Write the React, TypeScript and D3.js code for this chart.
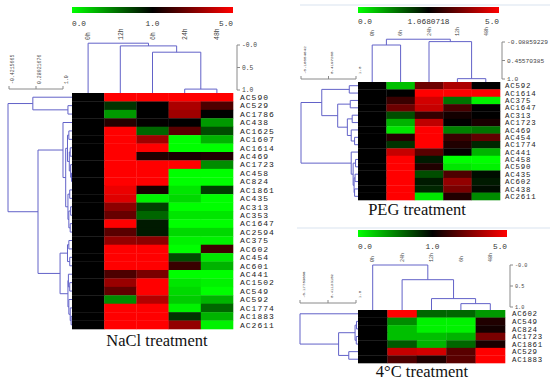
import React from "react";
import * as d3 from "d3";

type Tree = string | { h: number; c: Tree[] };

// ---------- NaCl ----------
const naclCols = ["0h", "12h", "6h", "24h", "48h"];
const naclRows = [
  "AC590", "AC529", "AC1786", "AC438", "AC1625", "AC1607", "AC1614", "AC469",
  "AC1723", "AC458", "AC824", "AC1861", "AC435", "AC313", "AC353", "AC1647",
  "AC2594", "AC375", "AC602", "AC454", "AC601", "AC441", "AC1502", "AC549",
  "AC592", "AC1774", "AC1883", "AC2611",
];
const naclValues = [
  [1, 5, 5, 5, 5],
  [1, 0.8, 1, 3.7, 2.2],
  [1, 0.4, 1, 3.5, 1],
  [1, 1.6, 1.05, 1, 0.4],
  [1, 5, 0.6, 2.4, 0.7],
  [1, 5, 3.5, 0, 0.3],
  [1, 5, 5, 0, 0],
  [1, 5, 1.5, 1.4, 1.5],
  [1, 5, 5, 5, 0.45],
  [1, 5, 5, 0, 0],
  [1, 5, 5, 0, 0],
  [1, 4.7, 1.4, 0.1, 0.75],
  [1, 4.5, 0.05, 0.15, 0],
  [1, 3.2, 0.75, 0, 0],
  [1, 2.6, 0.6, 0.1, 0.1],
  [1, 5, 0.9, 0, 0],
  [1, 2.4, 0.9, 0.15, 0.15],
  [1, 3.3, 3.2, 0.05, 0.05],
  [1, 5, 5, 0, 2],
  [1, 5, 5, 0.7, 0.1],
  [1, 5, 5, 1.9, 0.3],
  [1, 2.2, 2.9, 0, 0],
  [1, 3.4, 5, 0.1, 0.05],
  [1, 2.5, 5, 0.15, 0],
  [1, 0.45, 3.8, 0.2, 0.3],
  [1, 5, 5, 0.05, 0.6],
  [1, 5, 5, 0.8, 0.3],
  [1, 5, 5, 3.3, 0.05],
];
const naclColTree: Tree = {
  h: -0.04,
  c: ["0h", { h: 0.02, c: ["12h", { h: 0.16, c: ["6h", { h: 0.98, c: ["24h", "48h"] }] }] }],
};
const naclRowTree: Tree = {
  h: -0.4215665,
  c: [
    { h: 0.13, c: ["AC590", { h: 0.91, c: ["AC529", "AC1786"] }] },
    {
      h: 0.245,
      c: [
        {
          h: 0.8,
          c: [
            "AC438",
            {
              h: 0.86,
              c: [
                {
                  h: 0.9,
                  c: [
                    { h: 0.93, c: ["AC1625", "AC1607"] },
                    {
                      h: 0.94,
                      c: [
                        { h: 0.96, c: ["AC1614", "AC469"] },
                        { h: 0.97, c: ["AC1723", { h: 0.99, c: ["AC458", "AC824"] }] },
                      ],
                    },
                  ],
                },
                {
                  h: 0.91,
                  c: [
                    { h: 0.95, c: ["AC1861", "AC435"] },
                    {
                      h: 0.93,
                      c: [
                        { h: 0.97, c: ["AC313", "AC353"] },
                        { h: 0.96, c: ["AC1647", "AC2594"] },
                      ],
                    },
                  ],
                },
              ],
            },
          ],
        },
        {
          h: 0.735,
          c: [
            {
              h: 0.9,
              c: [
                { h: 0.93, c: ["AC375", "AC602"] },
                { h: 0.95, c: ["AC454", "AC601"] },
              ],
            },
            {
              h: 0.91,
              c: [
                { h: 0.92, c: ["AC441", { h: 0.95, c: ["AC1502", "AC549"] }] },
                {
                  h: 0.93,
                  c: ["AC592", { h: 0.96, c: ["AC1774", { h: 0.98, c: ["AC1883", "AC2611"] }] }],
                },
              ],
            },
          ],
        },
      ],
    },
  ],
};
const naclBarLabels = ["0.0", "1.0", "5.0"];
const naclColTicks = [0, 0.5, 1];
const naclColTickLabels = ["-0.0", "0.5", "1.0"];
const naclRowTicks = [-0.4215665, 0.28921676, 1];
const naclRowTickLabels = ["-0.4215665", "0.28921676", "1.0"];

// ---------- PEG ----------
const pegCols = ["0h", "6h", "24h", "12h", "48h"];
const pegRows = [
  "AC592", "AC1614", "AC375", "AC1647", "AC313", "AC1723", "AC469", "AC454",
  "AC1774", "AC441", "AC458", "AC590", "AC435", "AC602", "AC438", "AC2611",
];
const pegValues = [
  [1, 0.25, 2.7, 3.7, 1],
  [1, 1, 5, 5, 5],
  [1, 1.9, 4.3, 0.55, 0.05],
  [1, 2.7, 4.1, 2.1, 1],
  [1, 0.7, 1.8, 1.3, 1],
  [1, 0.3, 4, 1, 1.4],
  [1, 0.1, 5, 0.5, 0.55],
  [1, 1.6, 5, 1.9, 2.5],
  [1, 0.8, 5, 1.5, 0.85],
  [1, 4.1, 2.4, 1.05, 0.3],
  [1, 5, 0.9, 0, 0],
  [1, 5, 1.5, 0.1, 0.05],
  [1, 5, 0.7, 2.2, 0.95],
  [1, 5, 0.9, 3.3, 0.9],
  [1, 5, 0.85, 2.9, 0.95],
  [1, 5, 0.1, 1.5, 0.45],
];
const pegColTree: Tree = {
  h: -0.17,
  c: [{ h: 0.0, c: ["0h", "6h"] }, { h: -0.1, c: ["24h", { h: 0.99, c: ["12h", "48h"] }] }],
};
const pegRowTree: Tree = {
  h: -0.16054642,
  c: [
    {
      h: 0.27,
      c: [
        { h: 0.84, c: ["AC592", "AC1614"] },
        {
          h: 0.6,
          c: [
            { h: 0.86, c: ["AC375", "AC1647"] },
            {
              h: 0.8,
              c: [
                { h: 0.9, c: ["AC313", "AC1723"] },
                { h: 0.88, c: ["AC469", { h: 0.95, c: ["AC454", "AC1774"] }] },
              ],
            },
          ],
        },
      ],
    },
    {
      h: 0.88,
      c: [
        "AC441",
        {
          h: 0.92,
          c: [
            { h: 0.97, c: ["AC458", "AC590"] },
            {
              h: 0.94,
              c: [
                { h: 0.96, c: ["AC435", "AC602"] },
                { h: 0.95, c: ["AC438", "AC2611"] },
              ],
            },
          ],
        },
      ],
    },
  ],
};
const pegBarLabels = ["0.0", "1.0680718", "5.0"];
const pegColTicks = [-0.08859229, 0.45570385, 1];
const pegColTickLabels = ["-0.08859229", "0.45570385", "1.0"];
const pegRowTicks = [-0.16054642, 0.4197268, 1];
const pegRowTickLabels = ["-0.16054642", "0.4197268", "1.0"];

// ---------- 4°C ----------
const coldCols = ["0h", "24h", "12h", "6h", "48h"];
const coldRows = ["AC602", "AC549", "AC824", "AC1723", "AC1861", "AC529", "AC1883"];
const coldValues = [
  [1, 5, 0.6, 0.6, 0.4],
  [1, 0.45, 0.05, 0.05, 1.5],
  [1, 0.25, 0.05, 0.05, 1.3],
  [1, 0.25, 0.25, 0.3, 2.9],
  [1, 0.65, 0.3, 0.6, 1.4],
  [1, 4.1, 4.3, 2.4, 5],
  [1, 2.2, 1.5, 2.4, 5],
];
const coldColTree: Tree = {
  h: 0,
  c: ["0h", { h: 0.35, c: ["24h", { h: 0.8, c: ["12h", { h: 0.92, c: ["6h", "48h"] }] }] }],
};
const coldRowTree: Tree = {
  h: -0.17753686,
  c: [
    "AC602",
    {
      h: 0.62,
      c: [
        {
          h: 0.96,
          c: [
            { h: 0.99, c: ["AC549", "AC824"] },
            { h: 0.985, c: ["AC1723", "AC1861"] },
          ],
        },
        { h: 0.83, c: ["AC529", "AC1883"] },
      ],
    },
  ],
};
const coldBarLabels = ["0.0", "1.0", "5.0"];
const coldColTicks = [0, 0.5, 1];
const coldColTickLabels = ["-0.0", "0.5", "1.0"];
const coldRowTicks = [-0.17753686, 0.41123152, 1];
const coldRowTickLabels = ["-0.17753686", "0.41123152", "1.0"];

const valueColor = d3
  .scaleLinear<string>()
  .domain([0, 1, 5])
  .range(["#00ff00", "#000000", "#ff0000"])
  .clamp(true);

const TREE = "#6262c8";
const AXIS = "#8a8a8a";
const MONO = "'Liberation Mono', 'DejaVu Sans Mono', monospace";
const SERIF = "'Liberation Serif', 'DejaVu Serif', serif";

function dendro(
  t: Tree,
  leafPos: (n: string) => number,
  depth: (h: number) => number,
  leafDepth: number
) {
  const segs: [number, number, number, number][] = [];
  function walk(n: Tree): { p: number; d: number } {
    if (typeof n === "string") return { p: leafPos(n), d: leafDepth };
    const kids = n.c.map(walk);
    const d = depth(n.h);
    kids.forEach((k) => segs.push([k.p, d, k.p, k.d]));
    const ps = kids.map((k) => k.p);
    segs.push([d3.min(ps)!, d, d3.max(ps)!, d]);
    return { p: d3.mean(ps)!, d };
  }
  walk(t);
  return segs;
}

type Layout = {
  id: string;
  hx: [number, number];
  hy: [number, number];
  bar: [number, number, number, number]; // x0, x1, y, h
  barLabelY: number;
  colLabelY: number;
  colLabelSize: number;
  colTreeY: [number, number];
  colAxisX: number;
  colAxisSize: number;
  rowTreeX: [number, number];
  rowAxisX: [number, number];
  rowAxisY: number;
  rowAxisSize: number;
  rowLabelX: number;
  rowLabelSize: number;
  rowLabelSpacing: number;
  title: string;
  titleXY: [number, number];
};

function Panel(props: {
  L: Layout;
  rows: string[];
  cols: string[];
  values: number[][];
  rowTree: Tree;
  colTree: Tree;
  barLabels: string[];
  colTicks: number[];
  colTickLabels: string[];
  rowTicks: number[];
  rowTickLabels: string[];
}) {
  const { L, rows, cols, values } = props;
  const x = d3.scaleBand().domain(cols).range(L.hx);
  const y = d3.scaleBand().domain(rows).range(L.hy);
  const colDepth = d3
    .scaleLinear()
    .domain([props.colTicks[0], props.colTicks[props.colTicks.length - 1]])
    .range(L.colTreeY);
  const rowDepth = d3
    .scaleLinear()
    .domain([props.rowTicks[0], props.rowTicks[props.rowTicks.length - 1]])
    .range(L.rowTreeX);
  const rowAxis = d3
    .scaleLinear()
    .domain([props.rowTicks[0], props.rowTicks[props.rowTicks.length - 1]])
    .range(L.rowAxisX);

  const colSegs = dendro(props.colTree, (n) => x(n)! + x.bandwidth() / 2, colDepth, L.hy[0]);
  const rowSegs = dendro(props.rowTree, (n) => y(n)! + y.bandwidth() / 2, rowDepth, L.hx[0]);
  const [bx0, bx1, by, bh] = L.bar;
  const gid = "grad-" + L.id;

  return (
    <g>
      <defs>
        <linearGradient id={gid} x1="0" x2="1" y1="0" y2="0">
          <stop offset="0" stopColor={valueColor(0)} />
          <stop offset="0.5" stopColor={valueColor(1)} />
          <stop offset="1" stopColor={valueColor(5)} />
        </linearGradient>
      </defs>
      <rect x={bx0} y={by} width={bx1 - bx0} height={bh} fill={`url(#${gid})`} />
      {props.barLabels.map((t, i) => (
        <text
          key={t}
          x={i === 0 ? bx0 : i === 1 ? (bx0 + bx1) / 2 : bx1}
          y={L.barLabelY}
          textAnchor={i === 0 ? "start" : i === 1 ? "middle" : "end"}
          fontFamily={MONO}
          fontSize={7.8}
          fill="#333"
        >
          {t}
        </text>
      ))}

      {cols.map((c) => {
        const cx = x(c)! + x.bandwidth() / 2 + L.colLabelSize * 0.35;
        return (
          <text
            key={c}
            transform={`translate(${cx},${L.colLabelY}) rotate(-90)`}
            fontFamily={MONO}
            fontSize={L.colLabelSize}
            fill="#444"
          >
            {c}
          </text>
        );
      })}

      {values.map((row, i) =>
        row.map((v, j) => (
          <rect
            key={rows[i] + cols[j]}
            x={x(cols[j])}
            y={y(rows[i])}
            width={x.bandwidth() + 0.3}
            height={y.bandwidth() + 0.3}
            fill={valueColor(v)}
          />
        ))
      )}

      {rows.map((r) => (
        <text
          key={r}
          x={L.rowLabelX}
          y={y(r)! + y.bandwidth() / 2 + L.rowLabelSize * 0.35}
          fontFamily={MONO}
          fontSize={L.rowLabelSize}
          letterSpacing={L.rowLabelSpacing}
          fill="#222"
        >
          {r}
        </text>
      ))}

      <g stroke={TREE} strokeWidth={1} fill="none">
        {colSegs.map((s, i) => (
          <line key={"c" + i} x1={s[0]} y1={s[1]} x2={s[2]} y2={s[3]} />
        ))}
        {rowSegs.map((s, i) => (
          <line key={"r" + i} x1={s[1]} y1={s[0]} x2={s[3]} y2={s[2]} />
        ))}
      </g>

      {/* column distance axis */}
      <g stroke={AXIS} strokeWidth={1}>
        <line x1={L.colAxisX} x2={L.colAxisX} y1={L.colTreeY[0]} y2={L.colTreeY[1]} />
        {props.colTicks.map((t) => (
          <line key={t} x1={L.colAxisX} x2={L.colAxisX + 3} y1={colDepth(t)} y2={colDepth(t)} />
        ))}
      </g>
      {props.colTicks.map((t, i) => (
        <text
          key={t}
          x={L.colAxisX + 5}
          y={colDepth(t) + L.colAxisSize * 0.35}
          fontFamily={MONO}
          fontSize={L.colAxisSize}
          fill="#444"
        >
          {props.colTickLabels[i]}
        </text>
      ))}

      {/* row distance axis */}
      <g stroke={AXIS} strokeWidth={1}>
        <line x1={L.rowAxisX[0]} x2={L.rowAxisX[1]} y1={L.rowAxisY} y2={L.rowAxisY} />
        {props.rowTicks.map((t) => (
          <line key={t} x1={rowAxis(t)} x2={rowAxis(t)} y1={L.rowAxisY} y2={L.rowAxisY - 3} />
        ))}
      </g>
      {props.rowTicks.map((t, i) => (
        <text
          key={t}
          transform={`translate(${rowAxis(t) + L.rowAxisSize + 0.5},${L.rowAxisY - 5}) rotate(-90)`}
          fontFamily={MONO}
          fontSize={L.rowAxisSize}
          fill="#444"
        >
          {props.rowTickLabels[i]}
        </text>
      ))}

      <text
        x={L.titleXY[0]}
        y={L.titleXY[1]}
        textAnchor="middle"
        fontFamily={SERIF}
        fontSize={16.5}
        fill="#111"
      >
        {L.title}
      </text>
    </g>
  );
}

const naclLayout: Layout = {
  id: "nacl",
  hx: [72, 233],
  hy: [93, 329],
  bar: [72, 233, 7, 6],
  barLabelY: 26,
  colLabelY: 40,
  colLabelSize: 6.5,
  colTreeY: [45, 90],
  colAxisX: 237,
  colAxisSize: 6.3,
  rowTreeX: [8, 72],
  rowAxisX: [9, 63],
  rowAxisY: 89,
  rowAxisSize: 4.9,
  rowLabelX: 240,
  rowLabelSize: 8,
  rowLabelSpacing: 1,
  title: "NaCl treatment",
  titleXY: [157, 346],
};

const pegLayout: Layout = {
  id: "peg",
  hx: [358, 500],
  hy: [82, 200],
  bar: [358, 499, 7, 6],
  barLabelY: 24,
  colLabelY: 36,
  colLabelSize: 5,
  colTreeY: [42, 79],
  colAxisX: 502,
  colAxisSize: 6.2,
  rowTreeX: [301, 357],
  rowAxisX: [301, 356],
  rowAxisY: 79,
  rowAxisSize: 4.2,
  rowLabelX: 505,
  rowLabelSize: 7.4,
  rowLabelSpacing: 0.8,
  title: "PEG treatment",
  titleXY: [417, 215],
};

const coldLayout: Layout = {
  id: "cold",
  hx: [358, 505],
  hy: [310, 363],
  bar: [358, 507, 230, 7],
  barLabelY: 249,
  colLabelY: 262,
  colLabelSize: 5,
  colTreeY: [265, 307],
  colAxisX: 510,
  colAxisSize: 5.2,
  rowTreeX: [300, 357],
  rowAxisX: [300, 356],
  rowAxisY: 303,
  rowAxisSize: 4,
  rowLabelX: 512,
  rowLabelSize: 7.4,
  rowLabelSpacing: 0.7,
  title: "4°C treatment",
  titleXY: [422, 377],
};

export default function App() {
  return (
    <svg
      width={550}
      height={384}
      style={{ position: "absolute", left: 0, top: 0, background: "#fff" }}
    >
      <line x1={300} x2={550} y1={5} y2={5} stroke="#e6ecf5" strokeWidth={1.5} />
      <line x1={297} x2={550} y1={228} y2={228} stroke="#e6ecf5" strokeWidth={1.5} />
      <Panel
        L={naclLayout}
        rows={naclRows}
        cols={naclCols}
        values={naclValues}
        rowTree={naclRowTree}
        colTree={naclColTree}
        barLabels={naclBarLabels}
        colTicks={naclColTicks}
        colTickLabels={naclColTickLabels}
        rowTicks={naclRowTicks}
        rowTickLabels={naclRowTickLabels}
      />
      <Panel
        L={pegLayout}
        rows={pegRows}
        cols={pegCols}
        values={pegValues}
        rowTree={pegRowTree}
        colTree={pegColTree}
        barLabels={pegBarLabels}
        colTicks={pegColTicks}
        colTickLabels={pegColTickLabels}
        rowTicks={pegRowTicks}
        rowTickLabels={pegRowTickLabels}
      />
      <Panel
        L={coldLayout}
        rows={coldRows}
        cols={coldCols}
        values={coldValues}
        rowTree={coldRowTree}
        colTree={coldColTree}
        barLabels={coldBarLabels}
        colTicks={coldColTicks}
        colTickLabels={coldColTickLabels}
        rowTicks={coldRowTicks}
        rowTickLabels={coldRowTickLabels}
      />
    </svg>
  );
}
